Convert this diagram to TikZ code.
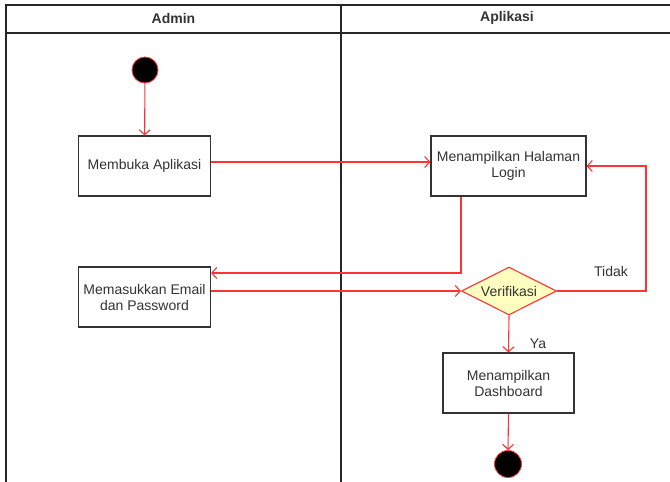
\documentclass[tikz,border=0pt]{standalone}
\usepackage{fontspec}
\setmainfont{Liberation Sans}
\usetikzlibrary{arrows.meta,shapes.geometric}
\definecolor{ln}{HTML}{FF3333}
\definecolor{tx}{HTML}{333333}
\definecolor{dy}{HTML}{FFFFC0}
\begin{document}
\begin{tikzpicture}[x=1pt,y=-1pt,
  font=\fontsize{14}{16}\selectfont,
  actbox/.style={draw=black!80,line width=1.1pt,fill=white,text=tx,align=center,inner sep=0pt},
  arr/.style={draw=ln,line width=1.1pt,-{Straight Barb[length=5pt,width=11pt]}},
  dot/.style={circle,fill=black,draw=ln,line width=0.8pt,inner sep=0pt,minimum size=#1},
  lane/.style={draw=black!85,line width=1.6pt}]
\useasboundingbox (0,0) rectangle (670,482);
\begin{scope}
\clip (0,0) rectangle (670,482);
\draw[lane] (673,495) -- (6,495) -- (6,5) -- (673,5) -- cycle;
\draw[lane] (6,33) -- (673,33);
\draw[lane] (341,5) -- (341,495);
\end{scope}
\node[font=\fontsize{14}{16}\selectfont\bfseries,text=tx] (hadmin) at (173.5,18) {Admin};
\node[font=\fontsize{14}{16}\selectfont\bfseries,text=tx] (happ) at (507,18) {Aplikasi};

\node[dot=26pt] (start) at (145,70) {};
\node[actbox,minimum width=132pt,minimum height=60pt] (membuka) at (144.5,166) {Membuka Aplikasi};
\node[actbox,minimum width=155pt,minimum height=60pt] (login) at (508.5,166) {Menampilkan Halaman\\Login};
\node[actbox,minimum width=132pt,minimum height=60pt] (masuk) at (144.5,297) {Memasukkan Email\\dan Password};
\node[diamond,draw=ln,fill=dy,line width=1.1pt,inner sep=0pt,minimum width=95pt,minimum height=48pt] (verif) at (509,291) {};
\node[text=tx] (verift) at (509,291) {Verifikasi};
\node[actbox,minimum width=131pt,minimum height=60pt] (dash) at (508.5,383) {Menampilkan\\Dashboard};
\node[dot=27pt] (end) at (508,464) {};

\coordinate (tr) at (646,166);
\draw[arr] (start) -- (membuka);
\draw[arr] ([yshift=4pt]membuka.east) -- ([yshift=4pt]login.west);
\draw[arr] ([xshift=-47.5pt]login.south) |- ([yshift=24pt]masuk.east);
\draw[arr] ([yshift=6pt]masuk.east) -- (verif.west);
\draw[arr] (verif.east) -| (tr) -- (login.east);
\draw[arr] (verif.south) -- (dash.north);
\draw[arr] (dash.south) -- (end.north);
\node[text=tx] (tidak) at (611,271) {Tidak};
\node[text=tx] (ya) at (538,344) {Ya};
\end{tikzpicture}
\end{document}
